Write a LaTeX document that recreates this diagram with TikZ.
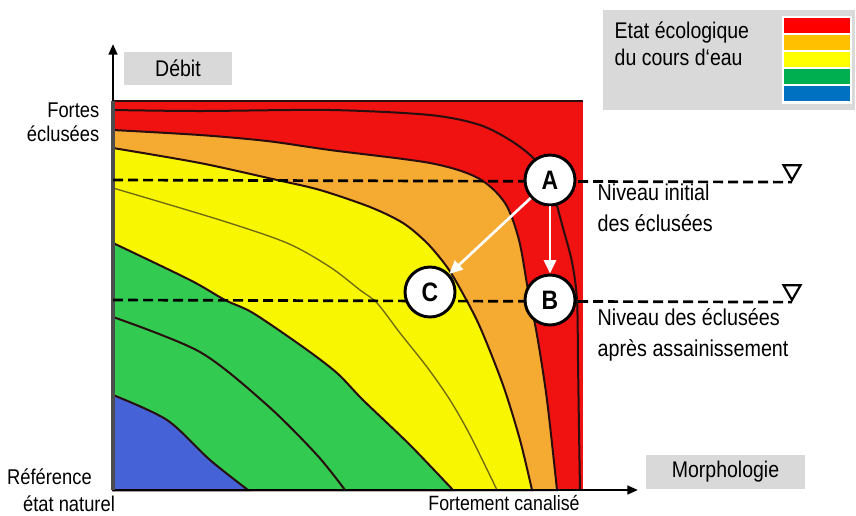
\documentclass[tikz,border=0pt]{standalone}
\usepackage{fontspec}
\setmainfont{Liberation Sans}[FakeStretch=0.86]
\usepackage{xcolor}
\usetikzlibrary{positioning, shapes.geometric, arrows.meta}

\definecolor{zRed}{RGB}{240,18,16}
\definecolor{zOrange}{RGB}{245,170,50}
\definecolor{zYellow}{RGB}{248,246,0}
\definecolor{zGreen}{RGB}{50,202,80}
\definecolor{zBlue}{RGB}{70,98,215}
\definecolor{zLine}{RGB}{40,14,14}
\definecolor{zThin}{RGB}{110,105,20}
\definecolor{lRed}{RGB}{255,0,0}
\definecolor{lOrange}{RGB}{255,192,0}
\definecolor{lYellow}{RGB}{255,255,0}
\definecolor{lGreen}{RGB}{0,176,80}
\definecolor{lBlue}{RGB}{0,112,192}

\begin{document}
\begin{tikzpicture}[
  x=0.75pt, y=-0.75pt,
  font=\fontsize{17}{20}\selectfont,
  tag/.style={fill=black!15, minimum height=25pt, inner sep=0pt},
  stage/.style={circle, draw, fill=white, line width=2.2pt, minimum size=37.5pt,
                inner sep=0pt, font=\fontsize{20}{20}\selectfont\bfseries},
  move/.style={draw=white, line width=2pt, -{Triangle[length=10pt,width=9pt]}},
  level/.style={dash pattern=on 7.5pt off 3.75pt, line width=2pt},
  gauge/.style={regular polygon, regular polygon sides=3, shape border rotate=180,
                draw, line width=1.6pt, minimum size=14.7pt, inner sep=0pt},
  axis/.style={line width=1.8pt, -{Triangle[length=8pt,width=6.5pt]}},
  iso/.style={draw=zLine, line width=1.5pt},
]
\useasboundingbox (0,0) rectangle (856,515);
%% Zones
\fill[zRed] (113,101) rectangle (583,490);
\filldraw[iso, fill=zOrange] plot[smooth] coordinates {(113,130) (200,135) (267,141)
  (330,150) (430,163) (478,178) (505,203) (519,240) (528,290) (537,335) (547,400) (557,490)}
  -- (113,490) -- cycle;
\filldraw[iso, fill=zYellow] plot[smooth] coordinates {(113,148) (200,163) (277,180)
  (320,190) (370,207) (403,223) (427,243) (447,267) (462,292) (480,327) (503,385)
  (520,440) (532,490)} -- (113,490) -- cycle;
\filldraw[iso, fill=zGreen] plot[smooth] coordinates {(113,243) (190,280) (225,300)
  (253,313) (303,347) (337,373) (363,400) (410,445) (453,490)} -- (113,490) -- cycle;
\filldraw[iso, fill=zBlue] plot[smooth] coordinates {(113,395) (167,420) (210,460)
  (248,490)} -- (113,490) -- cycle;
\draw[iso] plot[smooth] coordinates {(113,110) (200,111) (330,110) (430,115) (480,125)
  (513,142) (537,162) (552,190) (563,228) (572,262) (577,300) (578,362) (579,430) (580,490)};
\draw[zThin, line width=1pt] plot[smooth] coordinates {(113,188) (220,220) (287,243)
  (330,267) (360,290) (377,303) (400,333) (427,367) (450,400) (470,435) (497,490)};
\draw[iso] plot[smooth] coordinates {(113,317) (200,352) (267,405) (317,455) (345,490)};
\draw[zLine, line width=1.2pt] (113,101) -- (583,101);
%% Axes
\coordinate (orig) at (113,490);
\coordinate (ytip) at (113,44);
\coordinate (xtip) at (638,490);
\draw[axis] (orig) -- (ytip);
\draw[axis] (orig) -- (xtip);
\draw[black!70, line width=2.5pt] (113,101) -- (orig);
\node[tag, minimum width=81pt] at (178,68.5) (deb) {Débit};
\node[tag, minimum width=119pt] at (725.5,472) (mor) {Morphologie};
\node[anchor=east, align=right, font=\fontsize{16}{18}\selectfont] at (104,122) (fort)
  {Fortes\\éclusées};
\node[align=left, font=\fontsize{16}{20}\selectfont] at (61,490) (ref)
  {Référence\\\hspace*{12pt}état naturel};
\node[font=\fontsize{15.5}{18}\selectfont] at (504,503) (can) {Fortement canalisé};
%% Niveaux
\coordinate (n1) at (113,180);
\coordinate (n2) at (113,300);
\node[gauge] at (792,170.2) (g1) {};
\node[gauge] at (792,290.2) (g2) {};
\draw[level] (n1) -- (g1.corner 1);
\draw[level] (n2) -- (g2.corner 1);
\node[anchor=west, align=left, font=\fontsize{17.2}{23}\selectfont] at (593,208) (lini)
  {Niveau initial\\des éclusées};
\node[anchor=west, align=left, font=\fontsize{17.2}{23}\selectfont] at (593,335) (lapr)
  {Niveau des éclusées\\après assainissement};
%% Etats
\node[stage] at (550,180) (A) {A};
\node[stage] at (550,300) (B) {B};
\node[stage] at (430,292) (C) {C};
\draw[move] (A) -- (C);
\draw[move] (A) -- (B);
%% Legende
\node[fill=black!15, minimum width=189pt, minimum height=75pt, inner sep=0pt] at (729,60) (leg) {};
\node[fill=white, minimum width=52.5pt, minimum height=66pt, inner sep=0pt] at (817,60) (legc) {};
\foreach \c [count=\i from 0] in {lRed,lOrange,lYellow,lGreen,lBlue}
  \fill[\c] (784,{18+17*\i}) rectangle (850,{32.5+17*\i});
\node[anchor=west, align=left, font=\fontsize{17}{20.25}\selectfont] at (610,44) (legt)
  {Etat écologique\\du cours d‘eau};
\end{tikzpicture}
\end{document}
